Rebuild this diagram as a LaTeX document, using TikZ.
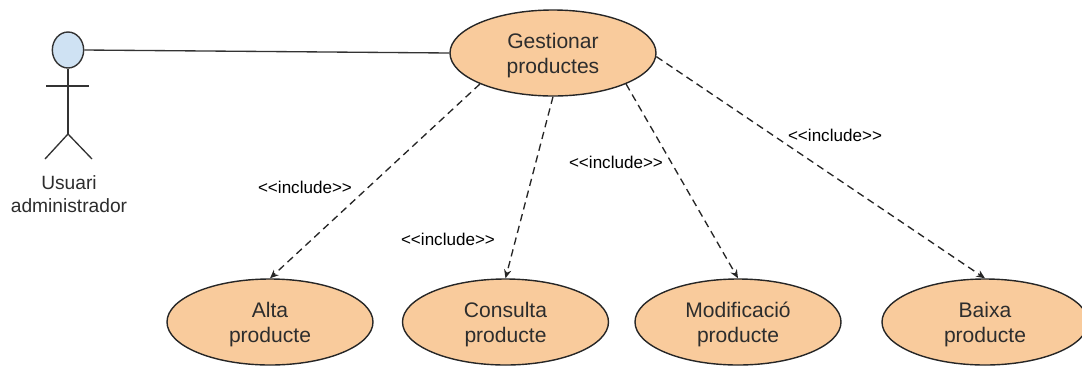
\documentclass[tikz,border=0pt]{standalone}
\usepackage{fontspec}
\setmainfont{Liberation Sans}
\usepackage{xcolor}
\usetikzlibrary{arrows.meta,shapes.geometric}
\definecolor{casefill}{RGB}{249,203,156}
\definecolor{headfill}{RGB}{207,226,243}
\definecolor{inktext}{RGB}{45,45,45}
\newcommand{\inclabel}{<{}<include>{}>}
\tikzset{
  usecase/.style={draw=black!85,fill=casefill,ellipse,line width=1.05pt,minimum width=154.5pt,minimum height=64.5pt,inner sep=0pt,text=inktext,font=\fontsize{15.8}{18.8}\selectfont,align=center,text height=34pt},
  stickline/.style={draw=black!80,line width=1pt},
  includes/.style={draw=black!85,line width=1pt,dash pattern=on 5.5pt off 3.6pt,-{Stealth[length=6.5pt,width=5.5pt]}},
  includelabel/.style={text=black,font=\fontsize{12.8}{14}\selectfont,inner sep=0pt},
}
\begin{document}
\begin{tikzpicture}[x=0.75pt,y=0.75pt,yscale=-1,xscale=1]
\useasboundingbox (0,0) rectangle (1082,365);

%Shape: Actor
\node (head) [ellipse,draw=black!80,fill=headfill,line width=1.05pt,minimum width=23.5pt,minimum height=27pt,inner sep=0pt] at (68,50) {};
\coordinate (hip) at (68,134);
\coordinate (armleft) at (46,86);
\coordinate (armright) at (89,86);
\coordinate (footleft) at (45,159);
\coordinate (footright) at (92,159);
\draw [stickline] (head.south) -- (hip);
\draw [stickline] (armleft) -- (armright);
\draw [stickline] (footleft) -- (hip) -- (footright);

%Shape: Use cases
\node (gestionar) [usecase] at (553,53) {Gestionar\\productes};
\node (alta) [usecase] at (270,322) {Alta\\producte};
\node (consulta) [usecase] at (505.5,322) {Consulta\\producte};
\node (modificacio) [usecase] at (738,322) {Modificació\\producte};
\node (baixa) [usecase] at (985,322) {Baixa\\producte};

%Straight Lines
\draw [stickline] (head.east) -- (gestionar.west);
\draw [includes] (gestionar.203.7) -- (alta.north);
\draw [includes] (gestionar.south) -- (consulta.north);
\draw [includes] (gestionar.-23.7) -- (modificacio.north);
\draw [includes] (gestionar.-2) -- (baixa.north);

% Text Node
\node (usuari) [text=inktext,font=\fontsize{14.4}{17.2}\selectfont,align=center,inner sep=0pt] at (69,194.5) {Usuari\\administrador};
% Text Node
\node (labelalta) [includelabel] at (305,187) {\inclabel};
\node (labelconsulta) [includelabel] at (448,239) {\inclabel};
\node (labelmodificacio) [includelabel] at (616,162) {\inclabel};
\node (labelbaixa) [includelabel] at (835,135) {\inclabel};

\end{tikzpicture}
\end{document}
